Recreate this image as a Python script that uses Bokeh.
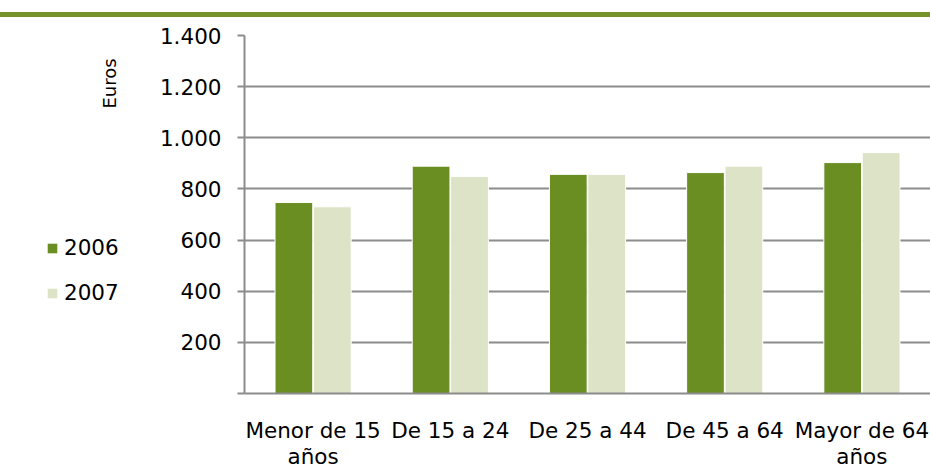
from bokeh.plotting import figure
from bokeh.models import (FactorRange, Range1d, FixedTicker, Legend, LegendItem,
                          Label, Div, ColumnDataSource)
from bokeh.transform import dodge
from bokeh.layouts import column, row
from bokeh.embed import file_html
from bokeh.resources import INLINE
import math

categories = ["Menor de 15\naños", "De 15 a 24", "De 25 a 44", "De 45 a 64", "Mayor de 64\naños"]
values_2006 = [747, 889, 857, 864, 903]
values_2007 = [730, 849, 857, 889, 942]
y_ticks = [0, 200, 400, 600, 800, 1000, 1200, 1400]
y_tick_labels = ["", "200", "400", "600", "800", "1.000", "1.200", "1.400"]
series_names = ["2006", "2007"]

FONT = "DejaVu Sans"
FS = "21.5px"
DARK = "#6B8E23"
LIGHT = "#DCE3C6"
GRID = "#8C8C8C"
TOTAL_H = 451

src = ColumnDataSource(dict(cat=categories, v2006=values_2006, v2007=values_2007))

# ---- main chart ----
p = figure(x_range=FactorRange(factors=categories, range_padding=0),
           y_range=Range1d(0, 1400),
           frame_width=686, frame_height=358,
           min_border_left=100, min_border_right=0,
           min_border_top=18, min_border_bottom=75,
           output_backend="svg", toolbar_location=None)
p.outline_line_color = None

p.vbar(x=dodge("cat", -0.14, range=p.x_range), top="v2006", width=0.275,
       source=src, fill_color=DARK, line_color="white", line_width=1)
p.vbar(x=dodge("cat", 0.14, range=p.x_range), top="v2007", width=0.275,
       source=src, fill_color=LIGHT, line_color="white", line_width=1)

p.yaxis.ticker = FixedTicker(ticks=y_ticks)
p.yaxis.major_label_overrides = {t: l for t, l in zip(y_ticks, y_tick_labels)}
p.yaxis.major_label_text_font = FONT
p.yaxis.major_label_text_font_size = FS
p.yaxis.major_label_text_color = "#000000"
p.yaxis.major_label_standoff = 16
p.yaxis.axis_line_color = GRID
p.yaxis.axis_line_width = 2
p.yaxis.major_tick_line_color = GRID
p.yaxis.major_tick_line_width = 2
p.yaxis.major_tick_out = 7
p.yaxis.major_tick_in = 0
p.yaxis.minor_tick_line_color = None

p.xaxis.major_label_text_font = FONT
p.xaxis.major_label_text_font_size = FS
p.xaxis.major_label_text_color = "#000000"
p.xaxis.major_label_text_line_height = 1.05
p.xaxis.major_label_standoff = 18
p.xaxis.axis_line_color = GRID
p.xaxis.axis_line_width = 2
p.xaxis.major_tick_line_color = None
p.xaxis.minor_tick_line_color = None

p.xgrid.grid_line_color = None
p.ygrid.grid_line_color = GRID
p.ygrid.grid_line_width = 2
p.ygrid.level = "underlay"

# ---- left side: legend and unit label ----
lp = figure(width=144, height=TOTAL_H, x_range=FactorRange(factors=categories),
            y_range=Range1d(0, 1400), x_axis_type=None, y_axis_type=None,
            min_border=0, output_backend="svg", toolbar_location=None)
lp.outline_line_color = None
lp.xgrid.grid_line_color = None
lp.ygrid.grid_line_color = None
# hidden proxies of the two series, used only for the legend swatches
e1 = lp.vbar(x="cat", top="v2006", width=0.3, source=src,
             fill_color=DARK, line_color=None, visible=False)
e2 = lp.vbar(x="cat", top="v2007", width=0.3, source=src,
             fill_color=LIGHT, line_color=None, visible=False)

legend = Legend(items=[LegendItem(label=series_names[0], renderers=[e1]),
                       LegendItem(label=series_names[1], renderers=[e2])],
                location=(46, 85), orientation="vertical",
                glyph_width=12, glyph_height=12, label_standoff=6,
                label_text_font=FONT, label_text_font_size=FS,
                label_text_color="#000000", spacing=20, padding=0, margin=0,
                border_line_color=None, background_fill_alpha=0,
                inactive_fill_alpha=0)
lp.add_layout(legend)

euros = Label(x=109, y=307, x_units="screen", y_units="screen", text="Euros",
              angle=math.pi / 2, text_font=FONT, text_font_size="18px",
              text_align="center", text_baseline="alphabetic", text_color="#000000")
lp.add_layout(euros)

bar = Div(text="", width=930, height=5, margin=(12, 0, 0, 0),
          styles={"background-color": "#76922A"})

layout = column(bar, row(lp, p, spacing=0), spacing=0)
open("out.html", "w").write(file_html(layout, INLINE))
